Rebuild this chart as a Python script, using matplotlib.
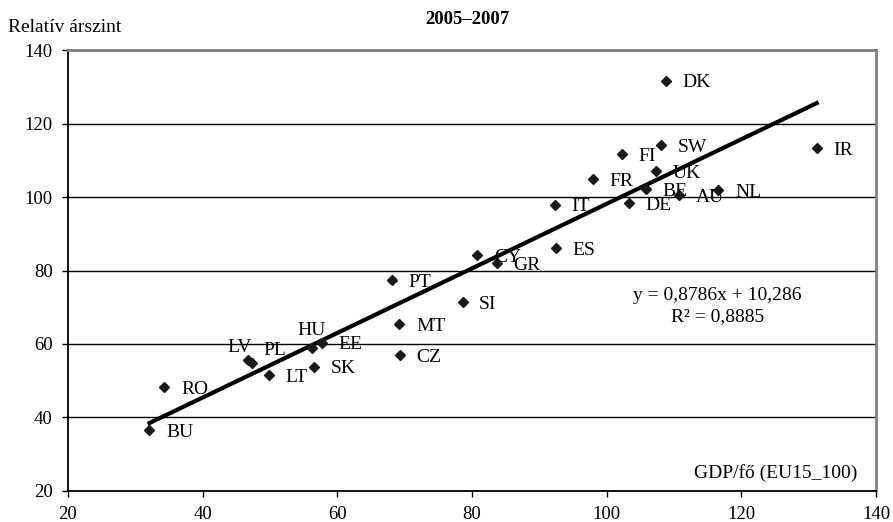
import numpy as np
import matplotlib
matplotlib.use("Agg")
import matplotlib.pyplot as plt

plt.rcParams['font.family'] = ['Liberation Serif', 'DejaVu Serif']

# data
countries = ['BU', 'RO', 'LV', 'PL', 'LT', 'HU', 'EE', 'SK', 'MT', 'CZ', 'PT', 'SI',
             'CY', 'GR', 'ES', 'IT', 'FR', 'FI', 'DE', 'BE', 'UK', 'SW', 'DK', 'AU',
             'NL', 'IR']
gdp = [32.1, 34.3, 46.7, 47.3, 49.8, 56.2, 57.7, 56.6, 69.2, 69.3, 68.1, 78.6,
       80.8, 83.7, 92.5, 92.3, 97.9, 102.3, 103.3, 105.8, 107.3, 108.1, 108.8, 110.7,
       116.6, 131.2]
price = [36.6, 48.2, 55.6, 54.7, 51.5, 58.8, 60.4, 53.8, 65.4, 57.0, 77.4, 71.3,
         84.2, 82.0, 86.0, 97.9, 104.8, 111.6, 98.3, 102.1, 107.0, 114.1, 131.6, 100.5,
         101.8, 113.3]
slope, intercept = 0.8786, 10.286
r2 = 0.8885

# label offsets in points (default: right of the marker)
offsets = {'LV': (-6, 9, 'center'), 'PL': (8, 9.5, 'left'), 'HU': (0, 13, 'center')}

fig = plt.figure(figsize=(8.93, 5.22), dpi=100)
ax = fig.add_axes([0.0761, 0.0594, 0.9049, 0.8448])

ax.set_xlim(20, 140)
ax.set_ylim(20, 140)
ax.set_xticks(np.arange(20, 141, 20))
ax.set_yticks(np.arange(20, 141, 20))
ax.grid(axis='y', color='black', linewidth=1.0)
ax.set_axisbelow(True)

for side in ['top', 'right']:
    ax.spines[side].set_color('#808080')
    ax.spines[side].set_linewidth(2.0)
for side in ['left', 'bottom']:
    ax.spines[side].set_color('black')
    ax.spines[side].set_linewidth(1.3)
ax.tick_params(direction='out', length=4, width=1.0, labelsize=13.5)
ax.tick_params(axis='x', pad=7)
ax.tick_params(axis='y', pad=7)

xs = np.array([min(gdp), max(gdp)])
ax.plot(xs, slope * xs + intercept, color='black', linewidth=3.0, zorder=3)
ax.plot(gdp, price, linestyle='none', marker='D', markersize=5.5,
        color='#1a1a1a', zorder=4)

for c, x, y in zip(countries, gdp, price):
    dx, dy, ha = offsets.get(c, (12, -1.5, 'left'))
    ax.annotate(c, (x, y), xytext=(dx, dy), textcoords='offset points',
                ha=ha, va='center', fontsize=14, zorder=5)

eq = f'y = {slope:.4f}x + {intercept:.3f}'.replace('.', ',')
ax.text(717.5 / 893, 1 - 296 / 522, eq, transform=fig.transFigure,
        ha='center', va='center', fontsize=14)
ax.text(717.5 / 893, 1 - 317 / 522, f'R² = {r2:.4f}'.replace('.', ','),
        transform=fig.transFigure, ha='center', va='center', fontsize=14)
fig.text(857 / 893, 1 - 473 / 522, 'GDP/fő (EU15_100)', ha='right', va='center',
         fontsize=14)

fig.text(467 / 893, 1 - 20 / 522, '2005–2007', ha='center', va='center',
         fontsize=13.5, fontweight='bold')
fig.text(8 / 893, 1 - 27 / 522, 'Relatív árszint', ha='left', va='center',
         fontsize=14)

fig.savefig('out.png', dpi=100)
